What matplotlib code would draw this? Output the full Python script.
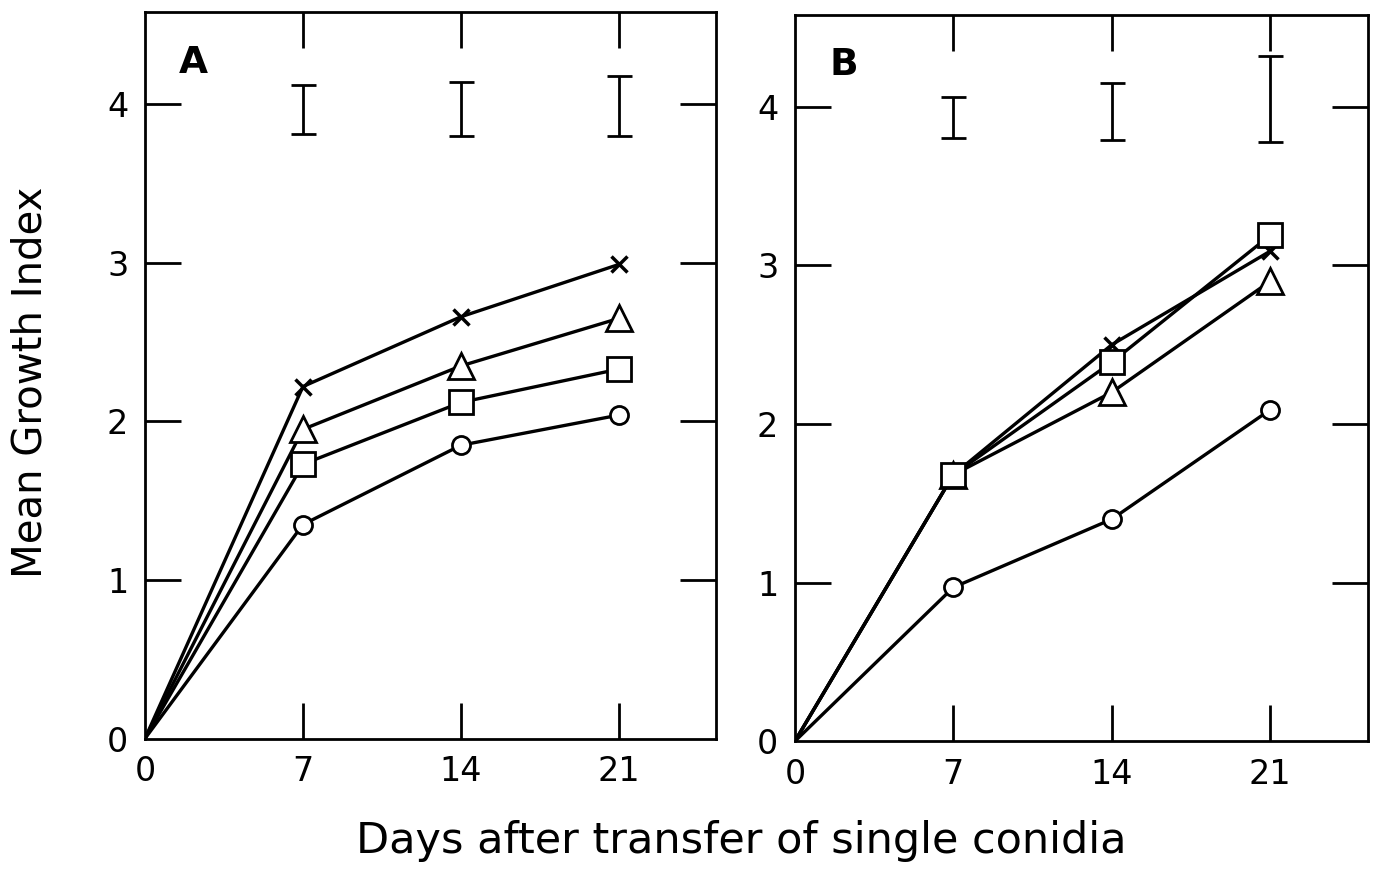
import matplotlib
matplotlib.use('Agg')
import matplotlib.pyplot as plt

days = [0, 7, 14, 21]

# panel A
a_cross = [0, 2.22, 2.66, 2.99]
a_tri = [0, 1.95, 2.35, 2.65]
a_square = [0, 1.73, 2.12, 2.33]
a_circle = [0, 1.35, 1.85, 2.04]
a_err_lo = [3.81, 3.80, 3.80]
a_err_hi = [4.12, 4.14, 4.18]

# panel B
b_cross = [0, 1.68, 2.50, 3.09]
b_tri = [0, 1.68, 2.20, 2.90]
b_square = [0, 1.68, 2.39, 3.19]
b_circle = [0, 0.97, 1.40, 2.09]
b_err_lo = [3.80, 3.79, 3.78]
b_err_hi = [4.06, 4.15, 4.32]

err_days = [7, 14, 21]

plt.rcParams['font.family'] = ['DejaVu Sans']

fig = plt.figure(figsize=(13.8, 8.69), dpi=100)
axA = fig.add_axes([0.105, 0.150, 0.414, 0.836])
axB = fig.add_axes([0.576, 0.147, 0.415, 0.836])

lw = 2.4
mk = [1, 2, 3]  # no marker at the origin
def draw(ax, cross, tri, square, circle, lo, hi, label):
    ax.plot(days, circle, '-o', color='black', lw=lw, ms=13, mfc='white', mew=2,
            markevery=mk, zorder=3)
    ax.plot(days, tri, '-^', color='black', lw=lw, ms=19, mfc='white', mew=2,
            markevery=mk, zorder=4)
    ax.plot(days, cross, '-x', color='black', lw=lw, ms=12, mew=2.5,
            markevery=mk, zorder=5)
    ax.plot(days, square, '-s', color='black', lw=lw, ms=17, mfc='white', mew=2,
            markevery=mk, zorder=6)
    for d, l, h in zip(err_days, lo, hi):
        mid = (l + h) / 2
        ax.errorbar([d], [mid], yerr=[[mid - l], [h - mid]], fmt='none',
                    ecolor='black', elinewidth=2, capsize=9, capthick=2)
    ax.set_xlim(0, 25.3)
    ax.set_ylim(0, 4.58)
    ax.set_xticks([0, 7, 14, 21])
    ax.set_yticks([0, 1, 2, 3, 4])
    ax.tick_params(direction='in', length=26, width=2, labelsize=24,
                   top=True, right=True, pad=12)
    for s in ax.spines.values():
        s.set_linewidth(2)
    # hide the tick marks at 0 on both axes
    for t in ax.xaxis.get_major_ticks()[:1] + ax.yaxis.get_major_ticks()[:1]:
        t.tick1line.set_visible(False)
        t.tick2line.set_visible(False)
    ax.text(0.06, 0.955, label, transform=ax.transAxes, fontsize=27,
            fontweight='bold', va='top', ha='left')

draw(axA, a_cross, a_tri, a_square, a_circle, a_err_lo, a_err_hi, 'A')
draw(axB, b_cross, b_tri, b_square, b_circle, b_err_lo, b_err_hi, 'B')

fig.text(0.022, 0.56, 'Mean Growth Index', fontsize=29, rotation=90,
         ha='center', va='center')
fig.text(0.537, 0.032, 'Days after transfer of single conidia', fontsize=31,
         ha='center', va='center')

fig.savefig('out.png', dpi=100)
